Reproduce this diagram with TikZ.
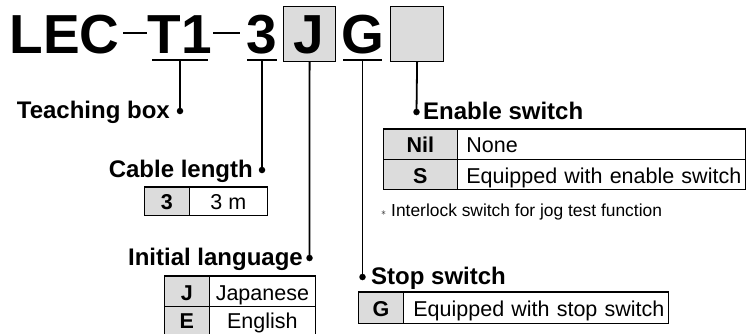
\documentclass[tikz,border=0pt]{standalone}
\usepackage{fontspec}
\setmainfont{Liberation Sans}
\definecolor{keygray}{RGB}{220,220,220}
\begin{document}
\begin{tikzpicture}[x=1pt,y=-1pt,
  big/.style={font=\fontsize{55}{55}\selectfont\bfseries, inner sep=0pt, anchor=base},
  head/.style={font=\fontsize{24}{24}\selectfont\bfseries, inner sep=0pt},
  cell/.style={draw, line width=0.8pt, inner sep=0pt, anchor=north west,
    text height=17.5pt, text depth=0pt, font=\fontsize{21.5}{21.5}\selectfont},
  keycell/.style={cell, fill=keygray, font=\fontsize{21.5}{21.5}\selectfont\bfseries},
  leftcell/.style={cell, align=left},
  codebox/.style={draw, fill=keygray, line width=1.2pt, inner sep=0pt, anchor=north west,
    minimum width=52pt, minimum height=55pt},
  lead/.style={line width=1.8pt},
  dotmark/.style={circle, fill=black, inner sep=0pt, minimum size=6.5pt},
  topline/.style={line width=2pt},
  note/.style={font=\fontsize{17.4}{17.4}\selectfont, inner sep=0pt, anchor=base west}]
\useasboundingbox (0,0) rectangle (752,333);

% code boxes
\node[codebox] (jbox) at (283,6) {};
\node[codebox, minimum width=53pt] (blank) at (390,6) {};

% model code
\node[big] (lec) at (64.7,53) {LEC};
\node[big] (t1) at (180,53) {T1};
\node[big] (three) at (262,53) {3};
\node[big] (j) at (308.5,53) {J};
\node[big] (g) at (362.5,53) {G};

% dashes
\draw[line width=2pt] (123,33) -- (147,33);
\draw[line width=2pt] (213,33) -- (240,33);

% underlines
\draw[lead] (152,60) -- (208,60);
\draw[lead] (247,60) -- (277,60);
\draw[lead] (343,60) -- (382,60);
\coordinate (t1u) at (180,60);
\coordinate (threeu) at (262,60);
\coordinate (gu) at (362.5,60);

% dots
\node[dotmark] (tbdot) at (180,111) {};
\node[dotmark] (cldot) at (262,170) {};
\node[dotmark] (ildot) at (309.5,258) {};
\node[dotmark] (ssdot) at (362.5,277) {};
\node[dotmark] (esdot) at (416.5,112) {};

% leads
\draw[lead] (t1u) -- (tbdot.center);
\draw[lead] (threeu) -- (cldot.center);
\draw[lead] (jbox.south) -- (ildot.center);
\draw[lead] (gu) -- (ssdot.center);
\draw[lead] (blank.south) -- (esdot.center);

% headings
\node[head, anchor=base east] (tbh) at (170,118) {Teaching box};
\node[head, anchor=base east] (clh) at (253,177) {Cable length};
\node[head, anchor=base east] (ilh) at (303,265) {Initial language};
\node[head, anchor=base west] (esh) at (423,119) {Enable switch};
\node[head, anchor=base west] (ssh) at (371,284) {Stop switch};

% cable length table
\node[keycell, minimum width=45pt, minimum height=28.5pt] (clk) at (144,186.5) {3};
\node[cell, minimum width=78pt, minimum height=28.5pt] (clv) at (189,186.5) {3 m};
\draw[topline] (clk.north west) -- (clv.north east);

% initial language table
\node[keycell, minimum width=45pt, minimum height=30pt] (jk) at (164,276) {J};
\node[cell, minimum width=106pt, minimum height=30pt] (jv) at (209,276) {Japanese};
\node[keycell, minimum width=45pt, minimum height=27.5pt, text height=16.5pt] (ek) at (164,306) {E};
\node[cell, minimum width=106pt, minimum height=27.5pt, text height=16.5pt] (ev) at (209,306) {English};
\draw[topline] (jk.north west) -- (jv.north east);

% enable switch table
\node[keycell, minimum width=74pt, minimum height=30.25pt] (nilk) at (383,128.5) {Nil};
\node[leftcell, text width=288pt, minimum height=30.25pt] (nilv) at (457,128.5) {\hspace*{9pt}None};
\node[keycell, minimum width=74pt, minimum height=30.25pt] (sk) at (383,158.75) {S};
\node[leftcell, text width=288pt, minimum height=30.25pt] (sv) at (457,158.75) {\hspace*{9pt}Equipped with enable switch};
\draw[topline] (nilk.north west) -- (nilv.north east);

% note
\node[note] (nt) at (381,216) {\raisebox{1pt}{\fontsize{10}{10}\selectfont$\ast$}\hspace{5pt}Interlock switch for jog test function};

% stop switch table
\node[keycell, minimum width=45pt, minimum height=31pt] (gk) at (358,292) {G};
\node[leftcell, text width=265pt, minimum height=31pt] (gv) at (403,292) {\hspace*{10pt}Equipped with stop switch};
\draw[topline] (gk.north west) -- (gv.north east);
\end{tikzpicture}
\end{document}
